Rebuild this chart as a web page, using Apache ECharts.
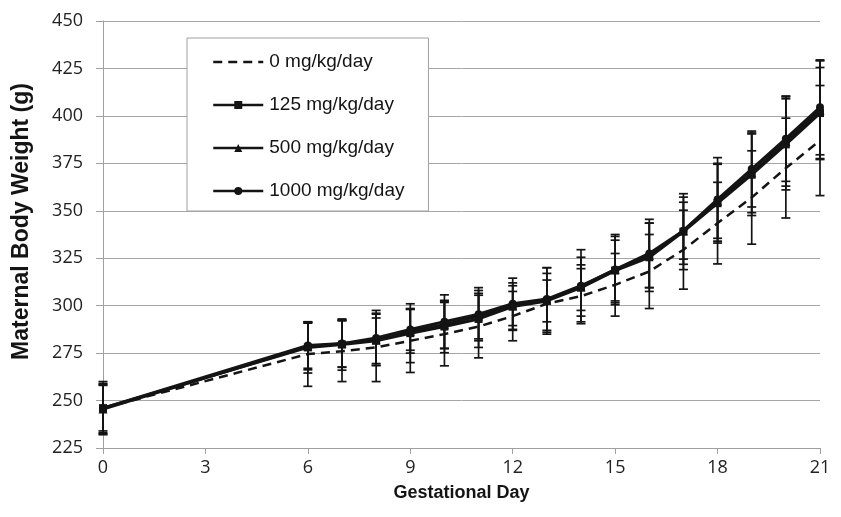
<!DOCTYPE html>
<html><head><meta charset="utf-8">
<script src="https://cdn.jsdelivr.net/npm/echarts@6/dist/echarts.min.js"></script>
<style>html,body{margin:0;padding:0;background:#fff}#c{width:841px;height:517px}</style>
</head><body><div id="c"></div>
<script>
const days = [0, 6, 7, 8, 9, 10, 11, 12, 13, 14, 15, 16, 17, 18, 19, 20, 21];
const seriesNames = ['0 mg/kg/day', '125 mg/kg/day', '500 mg/kg/day', '1000 mg/kg/day'];
const mean0    = [246, 274.5, 276, 278, 281.5, 285, 289, 294.5, 301, 305, 311, 318, 329.5, 343.5, 357, 372.5, 387];
const mean125  = [246, 278, 279.5, 281.5, 285.5, 289, 293, 299.5, 302.5, 309.5, 318.5, 325.5, 339, 354, 369, 385, 401.5];
const mean500  = [245.5, 278.5, 280, 282, 286.5, 290, 294.5, 300, 303, 310, 319, 326.5, 339.5, 355, 370, 386.5, 403];
const mean1000 = [246, 279, 280, 283, 287.5, 291.5, 295.5, 301, 303.5, 310.5, 319, 327.5, 339.5, 356, 372, 388, 404.5];
const sd0    = [13, 17, 16, 18, 16.7, 16.7, 16.5, 13, 16, 14.5, 16.5, 19.5, 20.8, 21.5, 24.6, 26.3, 29];
const sd125  = [12, 13.5, 13.5, 12, 15.5, 13.8, 15, 12.5, 11, 12, 16, 18, 20, 21, 21.5, 24, 24];
const sd500  = [13, 12.3, 12.3, 13.5, 11.5, 12.4, 12, 10.5, 17, 15.5, 18.5, 17, 17.7, 19.5, 21, 23.5, 26];
const sd1000 = [14, 12, 12.5, 14.5, 11, 14.2, 14, 13.5, 16.5, 19, 17.5, 18, 15, 22, 20, 22.5, 25];
const yTicks = [225, 250, 275, 300, 325, 350, 375, 400, 425, 450];
const xTicks = [0, 3, 6, 9, 12, 15, 18, 21];

const means = [mean0, mean125, mean500, mean1000];
const sds = [sd0, sd125, sd500, sd1000];
const symbols = ['none', 'rect', 'triangle', 'circle'];
const ink = '#141414';

function errSeries(m, s) {
  return {
    type: 'custom',
    silent: true,
    z: 3,
    data: days.map((d, i) => [d, m[i] - s[i], m[i] + s[i]]),
    renderItem: function (params, api) {
      const lo = api.coord([api.value(0), api.value(1)]);
      const hi = api.coord([api.value(0), api.value(2)]);
      const w = 4.5;
      const st = { stroke: ink, lineWidth: 1.7 };
      return { type: 'group', children: [
        { type: 'line', shape: { x1: lo[0], y1: lo[1], x2: hi[0], y2: hi[1] }, style: st },
        { type: 'line', shape: { x1: lo[0] - w, y1: lo[1], x2: lo[0] + w, y2: lo[1] }, style: st },
        { type: 'line', shape: { x1: hi[0] - w, y1: hi[1], x2: hi[0] + w, y2: hi[1] }, style: st }
      ]};
    }
  };
}

const series = [];
means.forEach((m, k) => series.push(errSeries(m, sds[k])));
means.forEach((m, k) => {
  series.push({
    name: seriesNames[k],
    type: 'line',
    z: 4,
    data: days.map((d, i) => [d, m[i]]),
    symbol: symbols[k],
    symbolSize: k === 2 ? 9 : 8,
    showSymbol: k !== 0,
    lineStyle: { color: ink, width: k === 0 ? 2.5 : 3, type: k === 0 ? [9, 6] : 'solid' },
    itemStyle: { color: ink },
    emphasis: { disabled: true }
  });
});

const chart = echarts.init(document.getElementById('c'), null, { renderer: 'canvas' });
chart.setOption({
  animation: false,
  backgroundColor: '#fff',
  textStyle: { fontFamily: 'Liberation Sans, Arial, sans-serif' },
  grid: { left: 103, right: 21, top: 21, bottom: 69 },
  legend: {
    data: [
      { name: seriesNames[0], itemStyle: { opacity: 0 } },
      seriesNames[1], seriesNames[2], seriesNames[3]
    ],
    orient: 'vertical',
    left: 187, top: 38,
    padding: [14, 24, 10, 25],
    itemWidth: 50, itemHeight: 10, itemGap: 23,
    lineStyle: { width: 2.5 },
    backgroundColor: '#fff',
    borderColor: '#a0a0a0', borderWidth: 1,
    textStyle: { fontSize: 19, lineHeight: 20, color: ink, padding: [0, 0, 0, 1], fontFamily: 'Liberation Sans, Arial, sans-serif' }
  },
  xAxis: {
    type: 'value', min: 0, max: 21, interval: 3,
    name: 'Gestational Day', nameLocation: 'middle', nameGap: 36,
    nameTextStyle: { fontSize: 18, fontWeight: 'bold', color: ink, fontFamily: 'Liberation Sans, Arial, sans-serif' },
    axisLine: { show: true, lineStyle: { color: '#a0a0a0', width: 1 } },
    axisTick: { show: true, length: 6, lineStyle: { color: '#a0a0a0' } },
    axisLabel: { fontSize: 18, color: '#222', margin: 11, fontFamily: 'Open Sans', formatter: v => xTicks.includes(v) ? String(v) : '' },
    splitLine: { show: false }
  },
  yAxis: {
    type: 'value', min: 225, max: 450, interval: 25,
    name: 'Maternal Body Weight (g)', nameLocation: 'middle', nameGap: 70, nameRotate: 90,
    nameTextStyle: { fontSize: 23, fontWeight: 'bold', color: ink, padding: [0, 0, 0, 26], fontFamily: 'Liberation Sans, Arial, sans-serif' },
    axisLine: { show: true, lineStyle: { color: '#a0a0a0', width: 1 } },
    axisTick: { show: true, length: 7, lineStyle: { color: '#a0a0a0' } },
    axisLabel: { fontSize: 18, color: '#222', margin: 20, fontFamily: 'Open Sans', formatter: v => yTicks.includes(v) ? String(v) : '' },
    splitLine: { show: true, lineStyle: { color: '#a6a6a6', width: 1 } }
  },
  series: series
});
</script></body></html>
